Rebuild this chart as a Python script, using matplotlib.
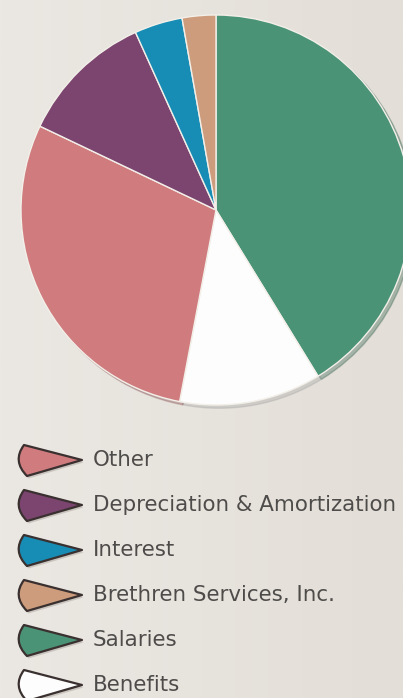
import matplotlib
matplotlib.use("Agg")
import matplotlib.pyplot as plt
from matplotlib.path import Path
from matplotlib.patches import PathPatch
import numpy as np

# Data (percent of expenses)
pie_labels = ["Salaries", "Benefits", "Other", "Depreciation & Amortization",
              "Interest", "Brethren Services, Inc."]
pie_values = [41.4, 11.8, 29.2, 11.2, 4.0, 2.8]
pie_colors = ["#4b9377", "#fdfdfd", "#d07c7e", "#7b456f", "#178db5", "#cc9c7c"]

legend_order = ["Other", "Depreciation & Amortization", "Interest",
                "Brethren Services, Inc.", "Salaries", "Benefits"]

W, H = 403, 698
fig = plt.figure(figsize=(W / 100, H / 100), dpi=100)
fig.patch.set_facecolor("#e6e2dc")

# background gradient
bg = fig.add_axes([0, 0, 1, 1])
grad = np.linspace(0, 1, 256)[None, :]
bg.imshow(grad, aspect="auto", cmap=matplotlib.colors.LinearSegmentedColormap.from_list(
    "bg", ["#ebe8e3", "#e3ded7"]), extent=[0, 1, 0, 1])
bg.axis("off")

# pie
cx, cy, r = 216, 210, 195
ax = fig.add_axes([(cx - r) / W, (H - cy - r) / H, 2 * r / W, 2 * r / H])
ax.set_facecolor("none")
wedges, _ = ax.pie(pie_values, colors=pie_colors, startangle=90, counterclock=False,
                   radius=1.0,
                   wedgeprops=dict(linewidth=1.0, edgecolor="#f3efe9"),
                   shadow=dict(ox=0.012, oy=-0.012, shade=0.35, alpha=0.35))
ax.set_xlim(-1, 1)
ax.set_ylim(-1, 1)
ax.set_aspect("equal")
ax.axis("off")

# legend (manual, pixel coordinates)
lg = fig.add_axes([0, 0, 1, 1])
lg.set_xlim(0, W)
lg.set_ylim(H, 0)
lg.axis("off")
lg.set_facecolor("none")

def marker_path(x0, yc):
    # cone shape: shallow rounded left side, pointed right end
    verts = [(x0 + 64, yc),
             (x0 + 6, yc - 15),
             (x0 - 6, yc + 1), (x0 + 9, yc + 16),
             (x0 + 64, yc)]
    codes = [Path.MOVETO, Path.LINETO, Path.CURVE3, Path.CURVE3, Path.CLOSEPOLY]
    return Path(verts, codes)

y0, dy = 460, 45
for i, name in enumerate(legend_order):
    yc = y0 + i * dy
    k = pie_labels.index(name)
    p = marker_path(18, yc)
    sh = PathPatch(p.transformed(matplotlib.transforms.Affine2D().translate(1.5, 2.5)),
                   facecolor="#b5afa7", edgecolor="none", alpha=0.6)
    lg.add_patch(sh)
    lg.add_patch(PathPatch(p, facecolor=pie_colors[k], edgecolor="#3a3030",
                           linewidth=1.6, joinstyle="round"))
    lg.text(93, yc, name, fontsize=15.4, color="#4e4c4a", va="center", ha="left",
            family="DejaVu Sans")

fig.savefig("out.png", dpi=100, facecolor=fig.get_facecolor())
